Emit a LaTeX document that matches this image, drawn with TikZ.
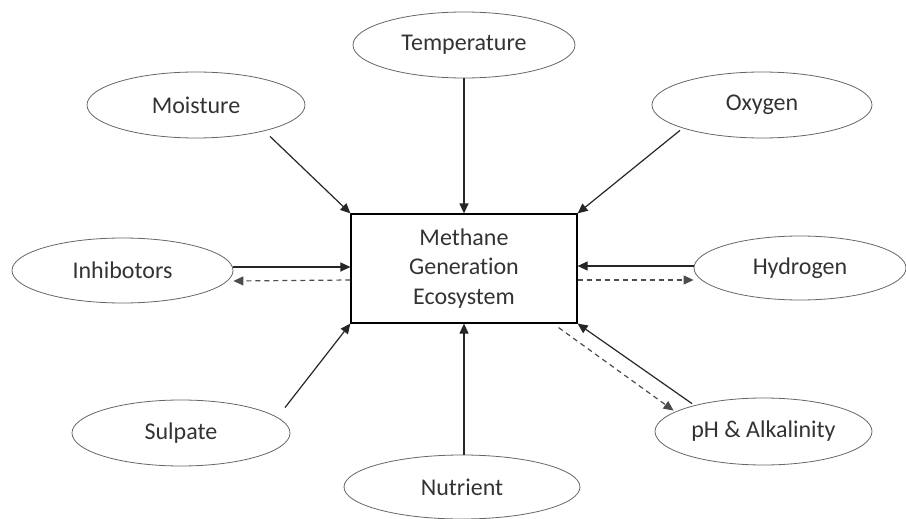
\documentclass[tikz,border=0pt]{standalone}
\usepackage{fontspec}
\setmainfont{Carlito}[Ligatures=NoCommon]
\usetikzlibrary{arrows.meta,shapes.geometric}
\begin{document}
\begin{tikzpicture}[x=1pt,y=-1pt,
  ell/.style={draw=gray!80!black,line width=0.8pt,ellipse,inner sep=0pt,font=\fontsize{24}{28}\selectfont,text=black!80},
  arr/.style={line width=1.2pt,draw=black!85,-{Triangle[length=10pt,width=9pt]}},
  darr/.style={arr,draw=black!70,dashed,dash pattern=on 5pt off 4pt}]
\useasboundingbox (0,0) rectangle (906,519);
\node[draw,line width=1.2pt,minimum width=226pt,minimum height=109pt,inner sep=0pt,align=center,font=\fontsize{24}{29.5}\selectfont,text=black!80] (box) at (464,268.5) {Methane\\Generation\\Ecosystem};
\node[ell,minimum width=222pt,minimum height=66pt] (temp) at (464,45) {Temperature};
\node[ell,minimum width=218pt,minimum height=66pt] (moist) at (196,105) {Moisture};
\node[ell,minimum width=220pt,minimum height=66pt] (oxy) at (762,105) {Oxygen};
\node[ell,minimum width=221pt,minimum height=65pt] (inh) at (122.5,270.5) {Inhibotors};
\node[ell,minimum width=212pt,minimum height=64pt] (hyd) at (800,268) {Hydrogen};
\node[ell,minimum width=218pt,minimum height=66pt] (sul) at (181,433) {Sulpate};
\node[ell,minimum width=236pt,minimum height=64pt] (nut) at (462,487) {Nutrient};
\node[ell,minimum width=217pt,minimum height=67pt] (ph) at (763.5,431.5) {pH \& Alkalinity};
% connectors
\draw[arr] (temp.south) -- (box.north);
\draw[arr] (moist.south) ++(74,-2) coordinate (m1) -- (box.north west);
\draw[arr] (oxy.south) ++(-82,-8) coordinate (o1) -- (box.north east);
\draw[arr] (inh.east |- 0,267) -- (box.west |- 0,267);
\draw[darr] (box.west |- 0,280) -- (inh.east |- 0,281);
\draw[arr] (hyd.west |- 0,266) -- (box.east |- 0,266);
\draw[darr] (box.east |- 0,280) -- (hyd.west |- 0,280);
\draw[arr] (sul.north) ++(104,8) coordinate (s1) -- (box.south west);
\draw[arr] (nut.north) ++(2,0) coordinate (n1) -- (box.south -| n1);
\draw[arr] (ph.north) ++(-71.5,6) coordinate (p1) -- (box.south east);
\draw[darr] (box.south east) ++(-19,4) coordinate (p2) -- ++(115,83) coordinate (p3);
\end{tikzpicture}
\end{document}
